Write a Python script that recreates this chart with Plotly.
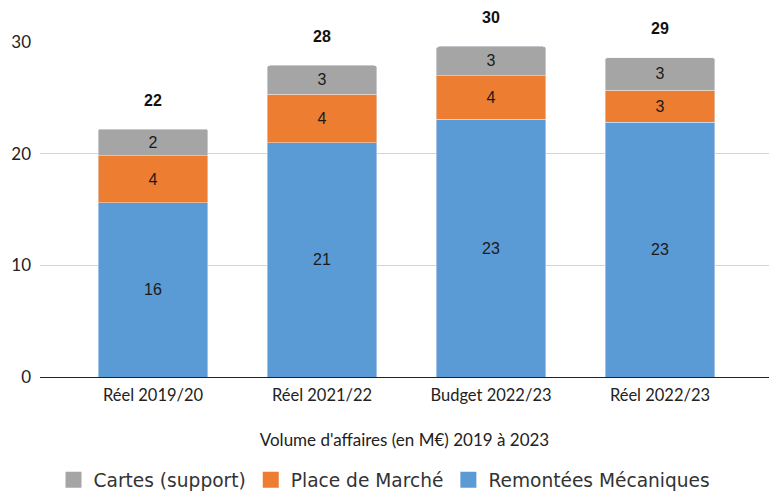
import plotly.graph_objects as go

categories = ["Réel 2019/20", "Réel 2021/22", "Budget 2022/23", "Réel 2022/23"]
remontees = [15.6, 21.0, 23.1, 22.8]
place_marche = [4.2, 4.3, 3.9, 2.9]
cartes = [2.4, 2.6, 2.6, 2.9]
totals = [a + b + c for a, b, c in zip(remontees, place_marche, cartes)]

series = [
    ("Remontées Mécaniques", remontees, "#5B9BD5"),
    ("Place de Marché", place_marche, "#ED7D31"),
    ("Cartes (support)", cartes, "#A5A5A5"),
]

label_font = dict(family="Liberation Sans, Arial", size=16, color="#1a1a1a")

fig = go.Figure()
for name, vals, col in series:
    fig.add_trace(go.Bar(x=categories, y=vals, name=name, marker_color=col,
                         text=[f"{v:.0f}" for v in vals], textposition="inside",
                         insidetextanchor="middle", textfont=label_font,
                         width=0.65, showlegend=False, cliponaxis=False,
                         hoverinfo="skip"))

# legend entries with larger square swatches
for name, vals, col in reversed(series):
    fig.add_trace(go.Scatter(x=[None], y=[None], mode="markers", name=name,
                             marker=dict(symbol="square", size=18, color=col)))

for c, t in zip(categories, totals):
    fig.add_annotation(x=c, y=t, text=f"<b>{t:.0f}</b>", showarrow=False,
                       yshift=29, font=dict(family="Liberation Sans, Arial", size=16, color="#111"))

fig.update_layout(
    barmode="stack",
    barcornerradius=3,
    width=769, height=491,
    margin=dict(l=40, r=0, t=42, b=114, autoexpand=False),
    plot_bgcolor="white", paper_bgcolor="white",
    legend=dict(orientation="h", x=0.5, xanchor="center", xref="container",
                y=0.022, yanchor="middle", yref="container", traceorder="normal",
                font=dict(family="DejaVu Sans", size=18.6, color="#333"),
                itemsizing="trace"),
    xaxis=dict(range=[-0.669, 3.645], showline=True, linecolor="#222", linewidth=1,
               automargin=False, ticks="", ticklabelstandoff=3,
               tickfont=dict(family="Lato", size=16.5, color="#222"),
               title=dict(text="Volume d'affaires (en M€) 2019 à 2023", standoff=30,
                          font=dict(family="Lato", size=17, color="#222"))),
    yaxis=dict(range=[0, 30], tickvals=[0, 10, 20, 30], showgrid=True, automargin=False,
               gridcolor="#d4d4d4", gridwidth=1, zeroline=False,
               tickfont=dict(family="Lato", size=17, color="#222"), ticklabelstandoff=8),
)

fig.write_html("out.html", config={"displayModeBar": False},
               post_script="document.body.style.margin='0';document.body.style.overflow='hidden';")
